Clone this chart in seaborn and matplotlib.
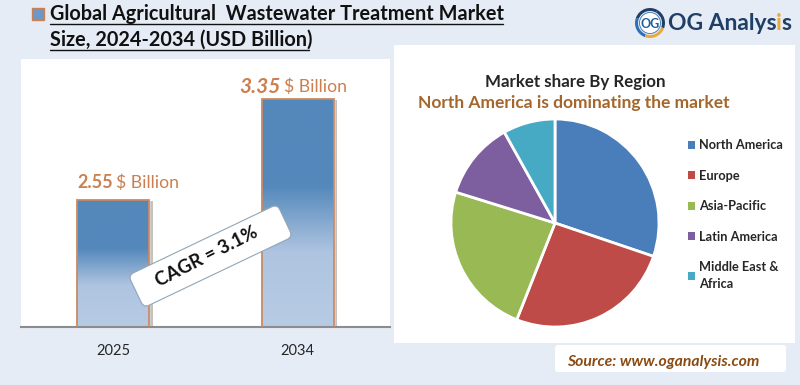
import matplotlib
matplotlib.use('Agg')
import matplotlib.pyplot as plt
import matplotlib.patheffects as pe
import matplotlib.transforms as mtrans
from matplotlib.colors import LinearSegmentedColormap
from matplotlib.patches import FancyBboxPatch, Rectangle, Wedge, Circle
import numpy as np
import pandas as pd
import seaborn as sns

years = ['2025', '2034']
market_size = [2.55, 3.35]
size_labels = ['2.55', '3.35']
regions = ['North America', 'Europe', 'Asia-Pacific', 'Latin America', 'Middle East &\nAfrica']
region_share = [30.2, 25.8, 23.8, 12.1, 8.1]
region_colors = ['#4A7EBB', '#BE4B48', '#98B954', '#7D5FA0', '#46AAC5']

BG = '#E6ECF5'
ORANGE = '#CC8050'
W, H = 800, 385

sns.set_style('white')
plt.rcParams['font.family'] = ['Lato', 'DejaVu Sans']


def px_axes(fig, x0, y0, x1, y1, **kw):
    # pixel box (top-left origin) -> figure axes
    return fig.add_axes([x0 / W, 1 - y1 / H, (x1 - x0) / W, (y1 - y0) / H], **kw)


fig = plt.figure(figsize=(W / 100, H / 100), dpi=100, facecolor=BG)

#%% bars
ax = px_axes(fig, 21, 59, 390, 327)
df = pd.DataFrame({'year': years, 'size': market_size})
ax.set_facecolor('white')
sns.barplot(data=df, x='year', y='size', color='#5488BB', width=0.39, saturation=1, ax=ax, zorder=1)
for bar in ax.patches:
    bar.set_path_effects([pe.SimplePatchShadow(offset=(2.5, -1), shadow_rgbFace='#9a908a', alpha=0.55), pe.Normal()])

ax.set_xlim(-0.5, 1.5)
ax.set_ylim(1.544, 3.667)

cmap = LinearSegmentedColormap.from_list('bar', [(0, '#B8CBE4'), (0.33, '#AEC4E0'), (0.62, '#5488BB'), (1, '#5488BB')])
grad = np.linspace(1, 0, 256).reshape(-1, 1)
for bar in list(ax.patches):
    im = ax.imshow(grad, cmap=cmap, vmin=0, vmax=1, aspect='auto', zorder=2,
                   extent=[bar.get_x(), bar.get_x() + bar.get_width(), ax.get_ylim()[0], bar.get_height()])
    im.set_clip_path(bar)
ax.set_xlim(-0.5, 1.5)
ax.set_ylim(1.544, 3.667)

sns.barplot(data=df, x='year', y='size', fill=False, color='#C98A64', linewidth=1.3, width=0.39, ax=ax, zorder=3)
ax.set_xlim(-0.5, 1.5)
ax.set_ylim(1.544, 3.667)

ax.set_xlabel('')
ax.set_ylabel('')
ax.set_yticks([])
ax.tick_params(axis='x', length=0, pad=12, labelsize=10.5, labelcolor='#262626')
sns.despine(ax=ax, left=True)
ax.spines['bottom'].set_color('#8C8C8C')
ax.spines['bottom'].set_linewidth(1.5)

# value labels sit above each bar
ax.text(-0.195, market_size[0] + 0.135, size_labels[0], fontsize=13, fontweight='bold', color=ORANGE, va='center')
ax.text(0.015, market_size[0] + 0.135, '$ Billion', fontsize=12.7, color=ORANGE, va='center')
ax.text(0.684, market_size[1] + 0.097, size_labels[1], fontsize=15, fontweight='bold', style='italic', color=ORANGE, va='center')
ax.text(0.925, market_size[1] + 0.097, '$ Billion', fontsize=12.7, color=ORANGE, va='center')

#%% pie
cx, cy, r = 555, 223, 104
ax2 = px_axes(fig, 394, 45, 795, 343)
wedges, _ = ax2.pie(region_share, colors=sns.color_palette(region_colors), startangle=90, counterclock=False,
                    radius=1, wedgeprops={'edgecolor': 'white', 'linewidth': 2})
ax2.set_aspect('auto')
ax2.set_xlim((394 - cx) / r, (795 - cx) / r)
ax2.set_ylim((cy - 343) / r, (cy - 45) / r)
ax2.set_frame_on(True)
ax2.set_facecolor('white')
sns.despine(ax=ax2, left=True, bottom=True)

leg = ax2.legend(wedges, regions, loc='upper left', bbox_to_anchor=(0.733, 0.683), frameon=False,
                 fontsize=9.2, labelcolor='#262626', handlelength=0.55, handleheight=0.55, handletextpad=0.29,
                 labelspacing=1.44, borderpad=0, borderaxespad=0)
for t in leg.get_texts():
    t.set_fontweight('bold')
    t.set_linespacing(1.45)
for h in leg.legend_handles:
    h.set_edgecolor('none')

ax2.text(0.451, 0.876, 'Market share By Region', transform=ax2.transAxes, ha='center', va='center',
         fontsize=12.2, fontweight='bold', color='#262626')
ax2.text(0.449, 0.805, 'North America is dominating the market', transform=ax2.transAxes, ha='center', va='center',
         fontsize=12.5, fontweight='bold', color='#A5662B')

#%% overlay in pixel coords: title, logo, CAGR tag, source box
ov = fig.add_axes([0, 0, 1, 1], zorder=10)
ov.set_xlim(0, W)
ov.set_ylim(H, 0)
ov.axis('off')

ov.add_patch(Rectangle((32, 8), 12, 12, facecolor='#6F97C6', edgecolor='#CC8050', linewidth=1))
ov.text(50, 14.5, 'Global Agricultural  Wastewater Treatment Market', fontsize=14.3, fontweight='bold',
        color='#111111', va='center')
ov.text(50, 40, 'Size, 2024-2034 (USD Billion)', fontsize=14.3, fontweight='bold', color='#111111', va='center')
ov.plot([50, 503], [24, 24], color='#111111', lw=1)
ov.plot([50, 309], [50, 50], color='#111111', lw=1)

tag_tf = mtrans.Affine2D().rotate_deg_around(210.5, 256, -25.5) + ov.transData
ov.add_patch(FancyBboxPatch((128, 238), 165, 36, boxstyle='round,pad=0,rounding_size=6', facecolor='white',
                            edgecolor='#8FA6B8', linewidth=0.8, transform=tag_tf))
ov.text(207, 257, 'CAGR = 3.1%', fontsize=13.5, fontweight='bold', color='#111111', rotation=27,
        rotation_mode='anchor', ha='center', va='center')

ov.add_patch(Wedge((650, 23), 15, 200, 300, width=3, facecolor='#1F3F66', edgecolor='none'))
ov.add_patch(Wedge((650, 23), 15, 110, 200, width=3, facecolor='#2F6FB5', edgecolor='none'))
ov.add_patch(Wedge((650, 23), 15, 20, 110, width=3, facecolor='#E9A93C', edgecolor='none'))
ov.add_patch(Wedge((650, 23), 15, 300, 20, width=3, facecolor='#1F3F66', edgecolor='none'))
ov.add_patch(Circle((650, 23), 10.5, facecolor='white', edgecolor='#2F6FB5', linewidth=0.6))
ov.text(650, 23.5, 'OG', fontsize=9, fontweight='bold', color='#1F5FA0', ha='center', va='center')
ov.text(668, 24, 'OG Analys', fontsize=16.5, fontweight='bold', color='#1F3F66', va='center')
ov.text(776, 24, 'i', fontsize=16.5, fontweight='bold', color='#E9A93C', va='center')
ov.text(781, 24, 's', fontsize=16.5, fontweight='bold', color='#1F3F66', va='center')

ov.add_patch(FancyBboxPatch((555, 345), 231, 27, boxstyle='round,pad=0,rounding_size=3', facecolor='white',
                            edgecolor='none'))
ov.text(567, 362, 'Source: www.oganalysis.com', fontsize=11.3, fontweight='bold', style='italic',
        color='#8B4A12', va='center')

fig.savefig('out.png', dpi=100, facecolor=BG)
